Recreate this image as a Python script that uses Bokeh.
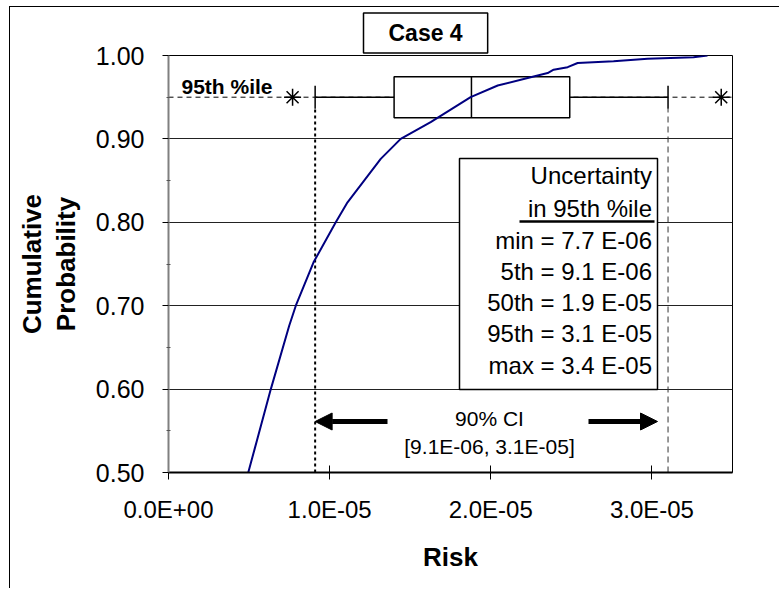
from bokeh.plotting import figure
from bokeh.models import (Range1d, FixedTicker, NumeralTickFormatter, Label,
                          Arrow, NormalHead)
from bokeh.embed import file_html
from bokeh.resources import INLINE

# ---------------- data ----------------
# cumulative distribution of risk
risk = [0.495e-5, 0.635e-5, 0.749e-5, 0.790e-5, 0.900e-5, 1.038e-5, 1.111e-5,
        1.214e-5, 1.317e-5, 1.441e-5, 1.627e-5, 1.875e-5, 2.043e-5, 2.229e-5,
        2.353e-5, 2.390e-5, 2.477e-5, 2.539e-5, 2.762e-5, 2.973e-5, 3.258e-5,
        3.345e-5]
cum_prob = [0.500, 0.600, 0.676, 0.700, 0.752, 0.800, 0.824,
            0.850, 0.876, 0.900, 0.920, 0.950, 0.964, 0.973,
            0.979, 0.983, 0.986, 0.991, 0.993, 0.996, 0.998,
            1.000]

# uncertainty in the 95th percentile (box plot)
level_95 = 0.95
unc_min, unc_p5, unc_q1, unc_med, unc_q3, unc_p95, unc_max = (
    7.7e-6, 9.1e-6, 1.40e-5, 1.88e-5, 2.49e-5, 3.10e-5, 3.43e-5)

legend_title = ["Uncertainty", "in 95th %ile"]
legend_rows = ["min = 7.7 E-06", "5th = 9.1 E-06", "50th = 1.9 E-05",
               "95th = 3.1 E-05", "max = 3.4 E-05"]
ci_lines = ["90% CI", "[9.1E-06, 3.1E-05]"]

x_ticks = [0.0, 1e-5, 2e-5, 3e-5]
x_tick_labels = ["0.0E+00", "1.0E-05", "2.0E-05", "3.0E-05"]
y_ticks = [0.5, 0.6, 0.7, 0.8, 0.9, 1.0]

X0, X1 = 0.0, 3.5e-5
Y0, Y1 = 0.5, 1.0

# ---------------- figure ----------------
FONT = "Liberation Sans"
W, H = 770, 582
FL, FR, FT, FB = 168, 732, 55, 472   # frame edges on the page
CX, CY = 10, 7                        # canvas origin on the page


def X(px):
    return X0 + (px - FL) / (FR - FL) * (X1 - X0)


def Y(py):
    return Y1 - (py - FT) / (FB - FT) * (Y1 - Y0)


p = figure(width=W, height=H, output_backend="svg", toolbar_location=None,
           x_range=Range1d(X0, X1), y_range=Range1d(Y0, Y1),
           min_border_left=FL - CX, min_border_right=CX + W - FR,
           min_border_top=FT - CY, min_border_bottom=CY + H - FB,
           margin=(6, 0, 0, 9))
p.styles = {"border-left": "1px solid black", "border-top": "1px solid black"}
p.background_fill_color = "white"
p.border_fill_color = "white"
p.outline_line_color = "black"
p.outline_line_width = 1

# title box
p.title.text = "Case 4"
p.title.align = "left"
p.title.offset = 195
p.title.standoff = 5
p.title.text_font = FONT
p.title.text_font_size = "23px"
p.title.text_font_style = "bold"
p.title.text_color = "black"
p.title.border_line_color = "black"
p.title.border_line_width = 1.5
p.title.background_fill_color = "white"
p.title.padding = (25, 25, 7, 7)

# axes
p.xaxis.ticker = FixedTicker(ticks=x_ticks)
p.xaxis.major_label_overrides = dict(zip(x_ticks, x_tick_labels))
minor_y = [(a + b) / 2 for a, b in zip(y_ticks[:-1], y_ticks[1:])]
p.yaxis.ticker = FixedTicker(ticks=y_ticks, minor_ticks=minor_y)
p.yaxis.formatter = NumeralTickFormatter(format="0.00")
for ax in (p.xaxis[0], p.yaxis[0]):
    ax.major_label_text_font = FONT
    ax.major_label_text_color = "black"
    ax.major_tick_line_color = "black"
    ax.axis_label_text_font = FONT
    ax.axis_label_text_font_size = "26px"
    ax.axis_label_text_font_style = "bold"
    ax.axis_label_text_color = "black"
p.xaxis.major_label_text_font_size = "24px"
p.yaxis.major_label_text_font_size = "25px"
p.xaxis.axis_label = "Risk"
p.xaxis.axis_label_standoff = 16
p.yaxis.axis_label = "Cumulative\nProbability"
p.yaxis.axis_label_text_line_height = 1.14
p.yaxis.axis_label_standoff = 12

p.yaxis.major_tick_out = 6
p.yaxis.major_tick_in = 0
p.yaxis.minor_tick_in = 2
p.yaxis.minor_tick_out = 2
p.yaxis.minor_tick_line_color = "#555555"
p.yaxis.axis_line_color = "#808080"
p.yaxis.axis_line_width = 2
p.yaxis.major_label_standoff = 18
p.xaxis.major_tick_in = 7
p.xaxis.major_tick_out = 7
p.xaxis.minor_tick_line_color = None
p.xaxis.axis_line_color = "black"
p.xaxis.axis_line_width = 2
p.xaxis.major_label_standoff = 16

p.xgrid.visible = False
p.ygrid.ticker = FixedTicker(ticks=y_ticks)
p.ygrid.grid_line_color = "#222222"
p.ygrid.grid_line_width = 1

# ---------------- box plot at the 95th percentile ----------------
half_box = 0.0245
half_cap = 0.0138
p.line(x=[X0, X1], y=[level_95, level_95], line_color="black",
       line_width=1, line_dash="5 4")
p.segment(x0=[unc_p5], y0=[Y0], x1=[unc_p5], y1=[level_95 - half_cap],
          line_color="black", line_width=2, line_dash="3 3")
p.segment(x0=[unc_p95], y0=[Y0], x1=[unc_p95], y1=[level_95 - half_cap],
          line_color="#333333", line_width=1, line_dash="6 4")
p.quad(left=[unc_q1], right=[unc_q3], bottom=[level_95 - half_box],
       top=[level_95 + half_box], fill_color="white", line_color="black",
       line_width=1.5)
p.segment(x0=[unc_med], y0=[level_95 - half_box], x1=[unc_med],
          y1=[level_95 + half_box], line_color="black", line_width=1.5)
p.segment(x0=[unc_p5, unc_q3], y0=[level_95, level_95],
          x1=[unc_q1, unc_p95], y1=[level_95, level_95],
          line_color="black", line_width=1.5)
p.segment(x0=[unc_p5, unc_p95], y0=[level_95 - half_cap] * 2,
          x1=[unc_p5, unc_p95], y1=[level_95 + half_cap] * 2,
          line_color="black", line_width=1.5)

# CDF curve
p.line(x=risk, y=cum_prob, line_color="#000080", line_width=2)

# min / max stars
p.scatter(x=[unc_min, unc_max], y=[level_95, level_95], marker="asterisk",
          size=17, line_color="black", line_width=1.5)

# ---------------- legend box ----------------
p.quad(left=[X(459)], right=[X(657)], top=[Y(158)], bottom=[Y(389)],
       fill_color="white", line_color="black", line_width=1.5)
centers = [174.7, 207.8, 240, 271.2, 302, 332.8, 365]
for txt, c in zip(legend_title + legend_rows, centers):
    p.add_layout(Label(x=X(651.5), y=Y(c), text=txt, text_align="right",
                       text_baseline="middle", text_font=FONT,
                       text_font_size="24px", text_color="black"))
p.segment(x0=[X(519)], y0=[Y(221)], x1=[X(654)], y1=[Y(221)],
          line_color="black", line_width=2.5)

# ---------------- 90% CI arrows and text ----------------
ya = Y(421)
p.add_layout(Arrow(end=NormalHead(size=17, fill_color="black", line_color="black"),
                   x_start=X(387), y_start=ya, x_end=unc_p5, y_end=ya,
                   line_color="black", line_width=5))
p.add_layout(Arrow(end=NormalHead(size=17, fill_color="black", line_color="black"),
                   x_start=X(588), y_start=ya, x_end=X(657), y_end=ya,
                   line_color="black", line_width=5))
for txt, c in zip(ci_lines, [418, 446]):
    p.add_layout(Label(x=X(489), y=Y(c), text=txt, text_align="center",
                       text_baseline="middle", text_font=FONT,
                       text_font_size="21px", text_color="black"))

# ---------------- 95th percentile label ----------------
p.add_layout(Label(x=X(181), y=Y(85.5), text="95th %ile", text_align="left",
                   text_baseline="middle", text_font=FONT,
                   text_font_size="21px", text_font_style="bold",
                   text_color="black"))

open("out.html", "w").write(file_html(p, INLINE))
